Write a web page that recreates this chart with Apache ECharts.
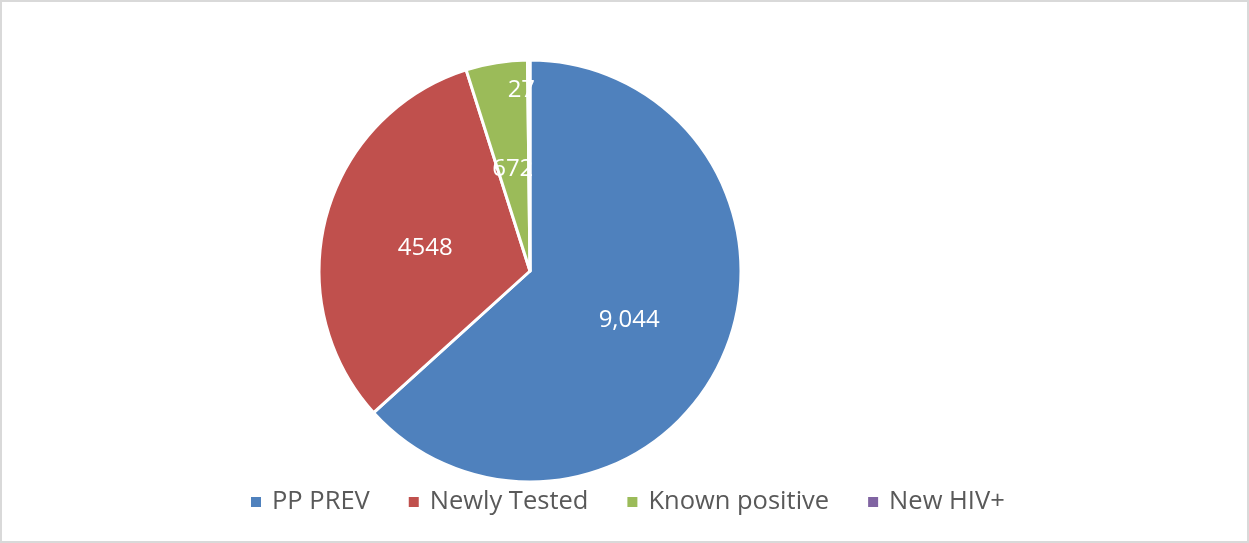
<!DOCTYPE html>
<html>
<head>
<meta charset="utf-8">
<script src="https://cdn.jsdelivr.net/npm/echarts@6/dist/echarts.min.js"></script>
<style>
html,body{margin:0;padding:0;background:#fff;}
#wrap{position:relative;width:1249px;height:543px;}
#chart{position:absolute;left:0;top:0;width:1249px;height:543px;}
#frame{position:absolute;left:0;top:0;width:1249px;height:543px;box-sizing:border-box;border:2px solid #d9d9d9;pointer-events:none;}
</style>
</head>
<body>
<div id="wrap"><div id="chart"></div><div id="frame"></div></div>
<script>
const categories = ['PP PREV', 'Newly Tested', 'Known positive', 'New HIV+'];
const values = [9044, 4548, 672, 27];
const labelTexts = ['9,044', '4548', '672', '27'];
const colors = ['#4F81BD', '#C0504D', '#9BBB59', '#8064A2'];

const chart = echarts.init(document.getElementById('chart'), null, {renderer: 'canvas'});
const font = '"Open Sans", "DejaVu Sans", sans-serif';

chart.setOption({
  animation: false,
  backgroundColor: '#ffffff',
  color: colors,
  legend: {
    data: categories,
    left: 246,
    top: 484,
    icon: 'rect',
    itemWidth: 10,
    itemHeight: 10,
    itemGap: 39,
    itemStyle: {borderWidth: 0},
    textStyle: {fontFamily: font, fontSize: 25.5, color: '#595959', padding: [0, 0, 0, 6]}
  },
  series: [{
    type: 'pie',
    center: [530, 271],
    radius: 211,
    startAngle: 90,
    clockwise: true,
    avoidLabelOverlap: false,
    itemStyle: {borderColor: '#ffffff', borderWidth: 3},
    label: {
      show: true,
      position: 'inside',
      color: '#ffffff',
      fontFamily: font,
      fontSize: 24,
      formatter: p => labelTexts[p.dataIndex]
    },
    labelLine: {show: false},
    labelLayout: function (p) {
      if (p.dataIndex === 3) return {dx: -8, dy: -72};
      return {dy: 5};
    },
    emphasis: {disabled: true},
    data: categories.map((c, i) => ({name: c, value: values[i]}))
  }]
});
</script>
</body>
</html>
